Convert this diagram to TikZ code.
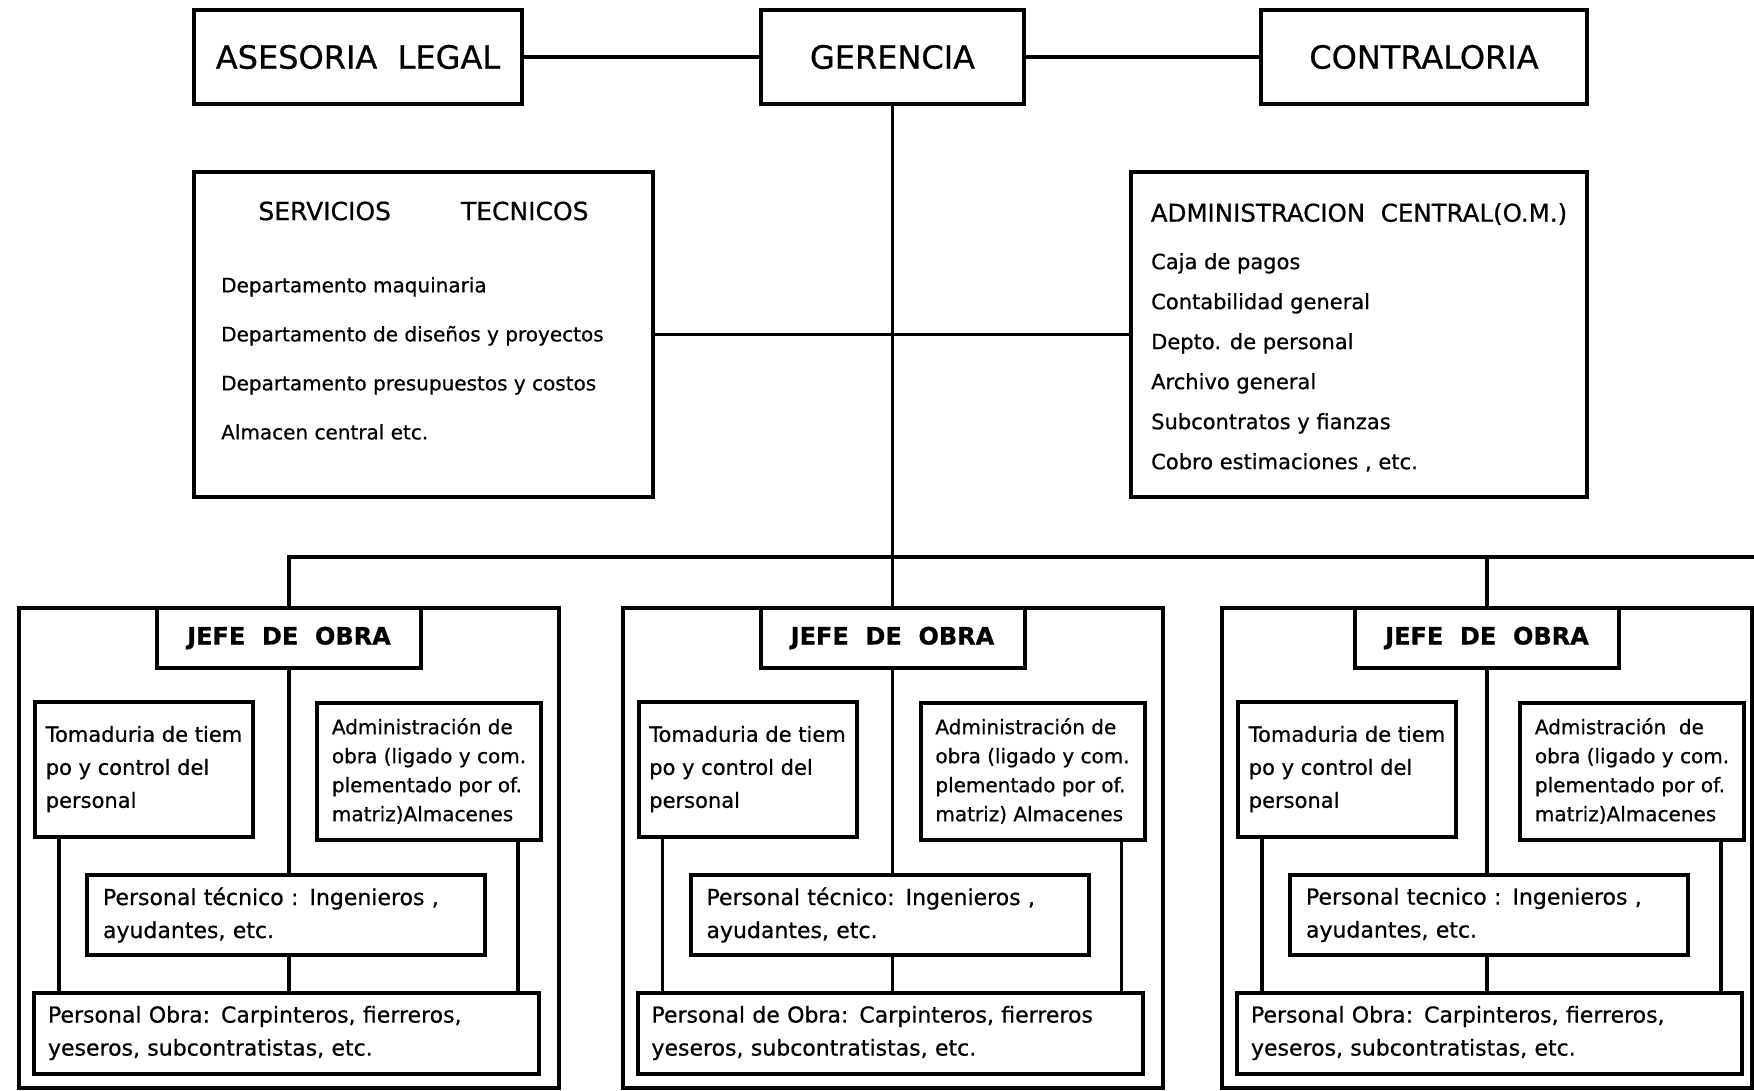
\documentclass[tikz,border=0pt]{standalone}
\usepackage{fontspec}
\setmainfont{DejaVu Sans}[FakeBold=0.7]
\usetikzlibrary{positioning}
\newcommand{\tam}[2]{\fontsize{#1}{#2}\selectfont}

\begin{document}
\begin{tikzpicture}[
	x = 1pt, y = -1pt, % one unit per pixel, y running down
	caja/.style = {draw, line width=4pt, inner sep=0pt},
	enlace/.style = {line width=3.4pt},
	tope/.style = {caja, minimum height=94pt, font=\tam{32}{38}},
	lista/.style = {align=left, inner sep=0pt},
	grupo/.style = {caja, minimum width=540pt, minimum height=480pt},
	jefe/.style = {caja, minimum width=264pt, minimum height=60pt, font=\tam{24}{28}\bfseries},
	tomabox/.style = {caja, minimum width=218pt, minimum height=135pt, align=left, font=\tam{21}{33}},
	admbox/.style = {caja, minimum width=224pt, minimum height=137pt, align=left, font=\tam{20}{29}},
	tecbox/.style = {caja, minimum width=398pt, minimum height=80pt, inner xsep=16pt, text width=366pt, align=left, font=\tam{22}{33}},
	obrabox/.style = {caja, minimum width=505pt, minimum height=81pt, inner xsep=14pt, text width=477pt, align=left, font=\tam{22}{33}}
	]
	
	\fill[white] (0,0) rectangle (1754,1090);
	\useasboundingbox (0,0) rectangle (1754,1090);
	\clip (0,0) rectangle (1754,1090);
	
	% direccion
	\node[tope, minimum width=328pt] (ases) at (358,57) {ASESORIA~~LEGAL};
	\node[tope, minimum width=263pt] (ger) at (892.5,57) {GERENCIA};
	\node[tope, minimum width=326pt] (contr) at (1424,57) {CONTRALORIA};
	
	% staff
	\node[caja, minimum width=459pt, minimum height=325pt] (servt) at (423.5,334.5) {};
	\node[font=\tam{25}{29}] (servtit) at ([yshift=-41pt]servt.north) {SERVICIOS\hspace{2.8em}TECNICOS};
	\node[lista, anchor=north west, font=\tam{20}{49}] (servl) at ([xshift=29pt,yshift=-107pt]servt.north west) {Departamento maquinaria\\Departamento de diseños y proyectos\\Departamento presupuestos y costos\\Almacen central etc.};
	
	\node[caja, minimum width=456pt, minimum height=325pt] (admc) at (1359,334.5) {};
	\node[font=\tam{24.5}{29}] (admtit) at ([yshift=-44pt]admc.north) {ADMINISTRACION~~CENTRAL(O.M.)};
	\node[lista, anchor=north west, font=\tam{21}{40}] (adml) at ([xshift=22pt,yshift=-83pt]admc.north west) {Caja de pagos\\Contabilidad general\\Depto. de personal\\Archivo general\\Subcontratos y fianzas\\Cobro estimaciones , etc.};
	
	% obra 1
	\node[grupo] (g1) at (289,848) {};
	\node[jefe, below=0pt of g1.north] (j1) {JEFE~~DE~~OBRA};
	\node[tomabox] (tm1) at (144,769) {Tomaduria de tiem\\po y control del\\personal};
	\node[admbox] (ad1) at (429,771) {Administración de\\obra (ligado y com.\\plementado por of.\\matriz)Almacenes};
	\node[tecbox] (te1) at (286,915) {Personal técnico : Ingenieros ,\\ayudantes, etc.};
	\node[obrabox] (ob1) at (286.5,1033) {Personal Obra: Carpinteros, fierreros,\\yeseros, subcontratistas, etc.};
	
	% obra 2
	\node[grupo] (g2) at (892.5,848) {};
	\node[jefe, below=0pt of g2.north] (j2) {JEFE~~DE~~OBRA};
	\node[tomabox] (tm2) at (747.5,769) {Tomaduria de tiem\\po y control del\\personal};
	\node[admbox] (ad2) at (1032.5,771) {Administración de\\obra (ligado y com.\\plementado por of.\\matriz) Almacenes};
	\node[tecbox] (te2) at (889.5,915) {Personal técnico: Ingenieros ,\\ayudantes, etc.};
	\node[obrabox] (ob2) at (890,1033) {Personal de Obra: Carpinteros, fierreros\\yeseros, subcontratistas, etc.};
	
	% obra 3
	\node[grupo, minimum width=530pt] (g3) at (1487,848) {};
	\node[jefe, below=0pt of g3.north] (j3) {JEFE~~DE~~OBRA};
	\node[tomabox] (tm3) at (1347,769) {Tomaduria de tiem\\po y control del\\personal};
	\node[admbox] (ad3) at (1632,771) {Admistración~~de\\obra (ligado y com.\\plementado por of.\\matriz)Almacenes};
	\node[tecbox] (te3) at (1489,915) {Personal tecnico : Ingenieros ,\\ayudantes, etc.};
	\node[obrabox] (ob3) at (1489.5,1033) {Personal Obra: Carpinteros, fierreros,\\yeseros, subcontratistas, etc.};
	
	\coordinate (bus) at (1754,557);
	\coordinate (tl1) at ([xshift=26pt]tm1.south west);
	\coordinate (ar1) at ([xshift=-25pt]ad1.south east);
	\coordinate (tl2) at ([xshift=26pt]tm2.south west);
	\coordinate (ar2) at ([xshift=-25pt]ad2.south east);
	\coordinate (tl3) at ([xshift=26pt]tm3.south west);
	\coordinate (ar3) at ([xshift=-25pt]ad3.south east);
	
	% lineas
	\draw[enlace] (ases) -- (ger);
	\draw[enlace] (ger) -- (contr);
	\draw[enlace] (servt) -- (admc);
	\draw[enlace] (ger.south) -- (j2.north);
	\draw[enlace] (j1.north) |- (bus);
	\draw[enlace] (j3.north) -- (j3.north |- bus);
	
	\draw[enlace] (j1.south) -- (j1.south |- te1.north);
	\draw[enlace] (j1.south |- te1.south) -- (j1.south |- ob1.north);
	\draw[enlace] (tl1) -- (tl1 |- ob1.north);
	\draw[enlace] (ar1) -- (ar1 |- ob1.north);
	
	\draw[enlace] (j2.south) -- (j2.south |- te2.north);
	\draw[enlace] (j2.south |- te2.south) -- (j2.south |- ob2.north);
	\draw[enlace] (tl2) -- (tl2 |- ob2.north);
	\draw[enlace] (ar2) -- (ar2 |- ob2.north);
	
	\draw[enlace] (j3.south) -- (j3.south |- te3.north);
	\draw[enlace] (j3.south |- te3.south) -- (j3.south |- ob3.north);
	\draw[enlace] (tl3) -- (tl3 |- ob3.north);
	\draw[enlace] (ar3) -- (ar3 |- ob3.north);
	
\end{tikzpicture}
\end{document}
